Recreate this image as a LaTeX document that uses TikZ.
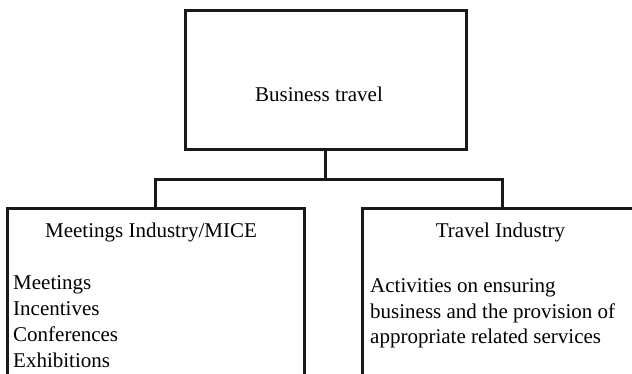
\documentclass[tikz,border=0pt]{standalone}
\usepackage{fontspec}
\setmainfont{Liberation Serif}
\begin{document}
\begin{tikzpicture}[x=1pt,y=-1pt,
  box/.style={draw=black!90, line width=3pt, inner sep=0pt},
  txt/.style={font=\fontsize{21}{26}\selectfont, inner sep=0pt},
  conn/.style={draw=black!90, line width=3pt}]
\useasboundingbox (0,0) rectangle (632,374);
\clip (0,0) rectangle (632,374);
\node[box, minimum width=281pt, minimum height=139pt] (top) at (325.5,80.5) {};
\node[box, minimum width=297pt, minimum height=175pt] (left) at (155.5,296.5) {};
\node[box, minimum width=280pt, minimum height=175pt] (right) at (502,296.5) {};
\coordinate (junc) at (325.5,180);
\draw[conn] (top.south) -- (junc);
\draw[conn] (junc) -| (left.north);
\draw[conn] (junc) -| (right.north);
\node[txt, anchor=base] (bt) at (319,102) {Business travel};
\node[txt, anchor=base] (lt) at (151,237) {Meetings Industry/MICE};
\node[txt, anchor=base west] (l1) at (13,289) {Meetings};
\node[txt, anchor=base west] (l2) at (13,315) {Incentives};
\node[txt, anchor=base west] (l3) at (13,341) {Conferences};
\node[txt, anchor=base west] (l4) at (13,367) {Exhibitions};
\node[txt, anchor=base] (rt) at (500.5,237) {Travel Industry};
\node[txt, anchor=base west] (r1) at (370,292.5) {Activities on ensuring};
\node[txt, anchor=base west] (r2) at (370,318) {business and the provision of};
\node[txt, anchor=base west] (r3) at (370,343.5) {appropriate related services};
\end{tikzpicture}
\end{document}
